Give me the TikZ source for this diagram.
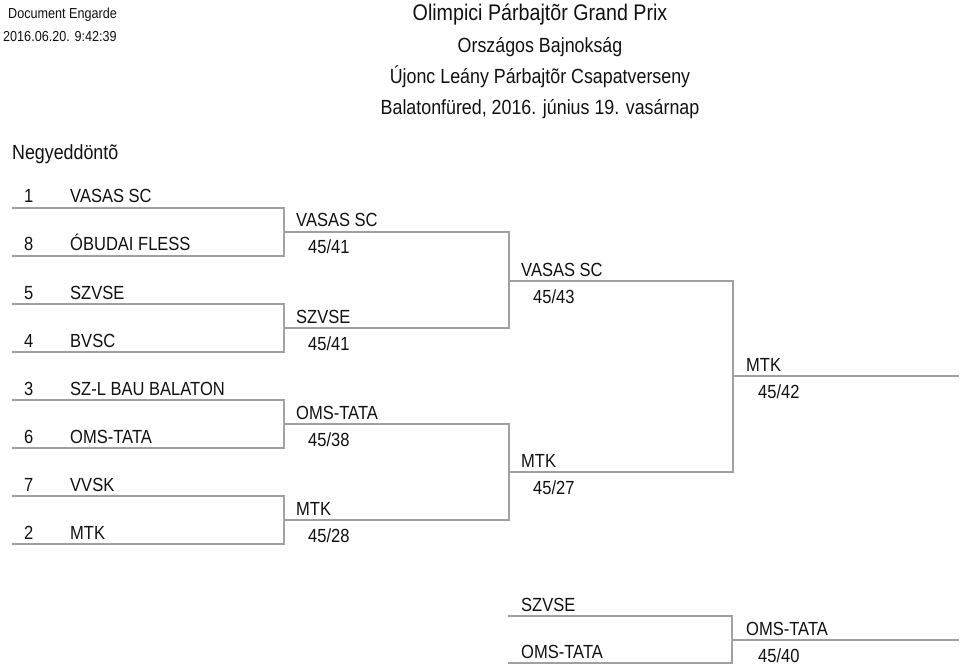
\documentclass[tikz,border=0pt]{standalone}
\usepackage{fontspec}
\setmainfont[FakeStretch=0.87]{Liberation Sans}
\usepackage{tikz}
\usetikzlibrary{calc,positioning}
\definecolor{BracketLine}{HTML}{A0A0A0}
\definecolor{TextMain}{HTML}{111111}
\tikzset{
  team/.style={anchor=base west, inner sep=0pt, text=TextMain, font=\fontsize{19}{21}\selectfont},
  head/.style={anchor=base, inner sep=0pt, text=TextMain, font=\fontsize{20.5}{23}\selectfont},
  bline/.style={BracketLine, line width=1.1pt},
}
\begin{document}
\begin{tikzpicture}[x=1pt, y=-1pt]
        \useasboundingbox (0,0) rectangle (960,668);
        % header
        \node[team, font=\fontsize{14.5}{16}\selectfont] (doc) at (8,19) {Document Engarde};
        \node[team, font=\fontsize{14.5}{16}\selectfont] (stamp) at (3,42) {2016.06.20. 9:42:39};
        \node[head, font=\fontsize{22.6}{25}\selectfont] (title) at (540,21) {Olimpici Párbajtõr Grand Prix};
        \node[head] (champ) at (540,53) {Országos Bajnokság};
        \node[head] (event) at (540,84) {Újonc Leány Párbajtõr Csapatverseny};
        \node[head] (place) at (540,115) {Balatonfüred, 2016. június 19. vasárnap};
        \node[team, font=\fontsize{20.5}{23}\selectfont] (round) at (12,160) {Negyeddöntõ};
        % quarterfinal
        \foreach \i/\s/\t/\y in {1/1/VASAS SC/208, 2/8/ÓBUDAI FLESS/256, 3/5/SZVSE/304, 4/4/BVSC/352,
                                 5/3/SZ-L BAU BALATON/400, 6/6/OMS-TATA/448, 7/7/VVSK/496, 8/2/MTK/544} {
            \coordinate (q\i) at (12,\y);
            \coordinate (qe\i) at (284,\y);
            \node[team] (qs\i) at (24,\y-5) {\s};
            \node[team] (qn\i) at (70,\y-5) {\t};
        }
        \foreach \a/\b in {1/2, 3/4, 5/6, 7/8}
            \draw[bline] (q\a) -- (qe\a) -- (qe\b) -- (q\b);
        % semifinal
        \foreach \i/\t/\r/\y in {1/VASAS SC/45\slash41/232, 2/SZVSE/45\slash41/328,
                                 3/OMS-TATA/45\slash38/424, 4/MTK/45\slash28/520} {
            \coordinate (s\i) at (284,\y);
            \coordinate (se\i) at (509,\y);
            \node[team] (sn\i) at (296,\y-5) {\t};
            \node[team] (sr\i) at (308,\y+22) {\r};
        }
        \foreach \a/\b in {1/2, 3/4}
            \draw[bline] (s\a) -- (se\a) -- (se\b) -- (s\b);
        % final
        \foreach \i/\t/\r/\y in {1/VASAS SC/45\slash43/281, 2/MTK/45\slash27/472} {
            \coordinate (f\i) at (509,\y);
            \coordinate (fe\i) at (733,\y);
            \node[team] (fn\i) at (521,\y-5) {\t};
            \node[team] (fr\i) at (533,\y+22) {\r};
        }
        \draw[bline] (f1) -- (fe1) -- (fe2) -- (f2);
        \coordinate (w) at (733,376);
        \coordinate (we) at (959,376);
        \draw[bline] (w) -- (we);
        \node[team] (wn) at (746,371) {MTK};
        \node[team] (wr) at (758,398) {45/42};
        % bronze
        \coordinate (t1) at (508,616);
        \coordinate (te1) at (732,616);
        \coordinate (t2) at (508,663);
        \coordinate (te2) at (732,663);
        \node[team] (tn1) at (521,611) {SZVSE};
        \node[team] (tn2) at (521,658) {OMS-TATA};
        \draw[bline] (t1) -- (te1) -- (te2) -- (t2);
        \coordinate (b) at (732,640);
        \coordinate (be) at (959,640);
        \draw[bline] (b) -- (be);
        \node[team] (bn) at (746,635) {OMS-TATA};
        \node[team] (br) at (758,662) {45/40};
    \end{tikzpicture}
\end{document}
